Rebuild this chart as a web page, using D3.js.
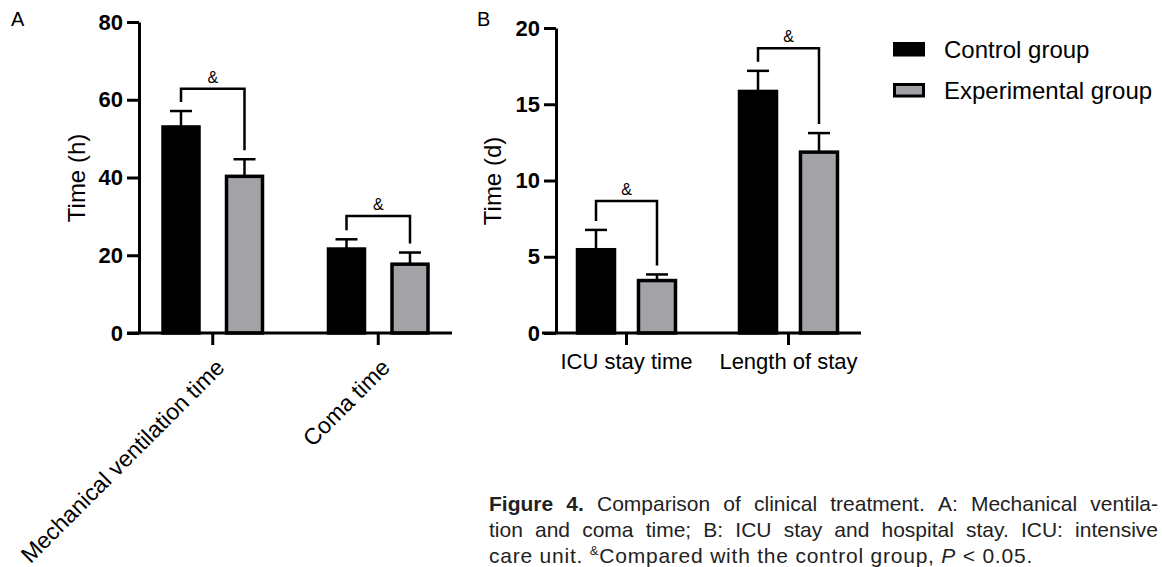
<!DOCTYPE html>
<html>
<head>
<meta charset="utf-8">
<script src="https://cdn.jsdelivr.net/npm/d3@7"></script>
<style>
  body { margin: 0; background: #fff; }
  svg { display: block; }
</style>
</head>
<body>
<script>
// --- --- --- Data --- --- ---
const groups = ["Control group", "Experimental group"];

// panel A (hours)
const catsA = ["Mechanical ventilation time", "Coma time"];
const controlA = [53.0, 21.6];
const controlSdA = [4.1, 2.5];
const experA = [40.3, 17.7];
const experSdA = [4.4, 3.0];
const bracketA = [62.8, 30.1];
const ticksA = [0, 20, 40, 60, 80];

// panel B (days)
const catsB = ["ICU stay time", "Length of stay"];
const controlB = [5.46, 15.84];
const controlSdB = [1.3, 1.35];
const experB = [3.44, 11.86];
const experSdB = [0.4, 1.25];
const bracketB = [8.66, 18.67];
const ticksB = [0, 5, 10, 15, 20];

const captionJustified = [
  "Figure 4. Comparison of clinical treatment. A: Mechanical ventila-",
  "tion and coma time; B: ICU stay and hospital stay. ICU: intensive"
];

const FONT = "'Liberation Sans', Arial, Helvetica, sans-serif";
const GRAY = "#a2a2a7";

const svg = d3.select("body").append("svg")
  .attr("width", 1162)
  .attr("height", 567)
  .style("font-family", FONT);

function drawPanel(p)
{
  const g = svg.append("g");
  const y = d3.scaleLinear().domain([0, p.ticks[p.ticks.length - 1]]).range([p.y0, p.y1]);
  const x = d3.scaleBand().domain(p.cats).range(p.xRange);
  const xs = d3.scaleBand().domain(groups).range([-p.inner, p.inner]).paddingInner(p.pad);
  const cx = (c, grp) => x(c) + x.bandwidth() / 2 + xs(grp) + xs.bandwidth() / 2;

  const rows = p.cats.map((c, i) => ({
    cat: c,
    bracket: p.bracket[i],
    vals: [
      { grp: groups[0], v: p.control[i], sd: p.controlSd[i] },
      { grp: groups[1], v: p.exper[i], sd: p.experSd[i] }
    ]
  }));
  const flat = rows.flatMap(r => r.vals.map(d => Object.assign({ cat: r.cat }, d)));

  // error bars (only upward)
  const err = g.append("g").attr("stroke", "#000").attr("stroke-width", 2.5);
  err.selectAll(".ev").data(flat).join("line")
    .attr("x1", d => cx(d.cat, d.grp)).attr("x2", d => cx(d.cat, d.grp))
    .attr("y1", d => y(d.v)).attr("y2", d => y(d.v + d.sd));
  err.selectAll(".ec").data(flat).join("line")
    .attr("x1", d => cx(d.cat, d.grp) - 11).attr("x2", d => cx(d.cat, d.grp) + 11)
    .attr("y1", d => y(d.v + d.sd)).attr("y2", d => y(d.v + d.sd));

  // bars
  g.append("g").selectAll("rect").data(flat).join("rect")
    .attr("x", d => cx(d.cat, d.grp) - xs.bandwidth() / 2)
    .attr("width", xs.bandwidth())
    .attr("y", d => y(d.v))
    .attr("height", d => y(0) - y(d.v))
    .attr("fill", d => d.grp === groups[0] ? "#000" : GRAY)
    .attr("stroke", "#000")
    .attr("stroke-width", 3.5);

  // significance brackets
  const br = g.append("g");
  rows.forEach(r => {
    const lx = cx(r.cat, groups[0]), rx = cx(r.cat, groups[1]);
    const by = y(r.bracket);
    const lb = y(r.vals[0].v + r.vals[0].sd) - 9;
    const rb = y(r.vals[1].v + r.vals[1].sd) - 9;
    br.append("path")
      .attr("d", `M${lx},${lb}V${by}H${rx}V${rb}`)
      .attr("fill", "none").attr("stroke", "#000").attr("stroke-width", 2.5);
    br.append("text")
      .attr("x", (lx + rx) / 2).attr("y", by - 6)
      .attr("text-anchor", "middle")
      .attr("font-size", 16)
      .text("&");
  });

  // y axis
  const ya = g.append("g")
    .attr("transform", `translate(${p.axisX},0)`)
    .call(d3.axisLeft(y).tickValues(p.ticks).tickSize(12).tickPadding(4).tickSizeOuter(0));
  ya.select(".domain").attr("stroke-width", 3);
  ya.selectAll(".tick line").attr("stroke-width", 3);
  ya.selectAll(".tick text")
    .attr("font-family", FONT).attr("font-size", 22).attr("font-weight", "bold").attr("fill", "#000");

  // x axis
  g.append("line")
    .attr("x1", p.xAxis[0]).attr("x2", p.xAxis[1])
    .attr("y1", y(0)).attr("y2", y(0))
    .attr("stroke", "#000").attr("stroke-width", 3);
  const xa = g.append("g")
    .attr("transform", `translate(0,${y(0)})`)
    .call(d3.axisBottom(x).tickSize(12).tickSizeOuter(0));
  xa.select(".domain").remove();
  xa.selectAll(".tick line").attr("stroke-width", 3);
  const xt = xa.selectAll(".tick text")
    .attr("font-family", FONT).attr("font-size", p.rotate ? 23 : 22).attr("fill", "#000");
  if (p.rotate)
    xt.attr("x", 0).attr("y", 0).attr("dy", null)
      .attr("text-anchor", "end")
      .attr("transform", "translate(13,36) rotate(-45)");
  else
    xt.attr("y", 36).attr("dy", null);

  // y title
  g.append("text")
    .attr("transform", `translate(${p.titleX},${p.titleY}) rotate(-90)`)
    .attr("text-anchor", "middle")
    .attr("font-size", 24)
    .text(p.title);

  // panel letter
  g.append("text")
    .attr("x", p.letter[0]).attr("y", p.letter[1])
    .attr("font-size", 20)
    .text(p.letter[2]);
}

drawPanel({
  cats: catsA, control: controlA, controlSd: controlSdA, exper: experA, experSd: experSdA,
  bracket: bracketA, ticks: ticksA,
  y0: 333, y1: 22, xRange: [130, 461], inner: 49.75, pad: 0.433,
  axisX: 139, xAxis: [127, 452], rotate: true,
  title: "Time (h)", titleX: 85, titleY: 178, letter: [11, 26, "A"]
});

drawPanel({
  cats: catsB, control: controlB, controlSd: controlSdB, exper: experB, experSd: experSdB,
  bracket: bracketB, ticks: ticksB,
  y0: 333, y1: 28, xRange: [545.5, 869.5], inner: 49, pad: 0.393,
  axisX: 556, xAxis: [542, 861], rotate: false,
  title: "Time (d)", titleX: 501, titleY: 181, letter: [477, 26, "B"]
});

// legend
const legend = svg.append("g");
const legendY = [43.5, 84.5];
groups.forEach((grp, i) => {
  legend.append("rect")
    .attr("x", 894.5).attr("y", legendY[i])
    .attr("width", 29).attr("height", 11.5)
    .attr("fill", i === 0 ? "#000" : GRAY)
    .attr("stroke", "#000").attr("stroke-width", 3);
  legend.append("text")
    .attr("x", 944).attr("y", legendY[i] + 14)
    .attr("font-size", 24)
    .text(grp);
});

// caption, first two lines justified
const cap = svg.append("g").attr("fill", "#222").attr("font-size", 21);
const capLeft = 489, capRight = 1158, capBase = [511, 537, 563];
captionJustified.forEach((line, li) => {
  const words = line.split(" ");
  const nodes = words.map((w, wi) =>
    cap.append("text")
      .attr("y", capBase[li])
      .attr("font-weight", li === 0 && wi < 2 ? "bold" : null)
      .text(w));
  const widths = nodes.map(n => n.node().getComputedTextLength());
  const gap = (capRight - capLeft - d3.sum(widths)) / (words.length - 1);
  let xpos = capLeft;
  nodes.forEach((n, i) => { n.attr("x", xpos); xpos += widths[i] + gap; });
});
const last = cap.append("text").attr("x", capLeft).attr("y", capBase[2]);
last.append("tspan").text("care unit. ");
last.append("tspan").attr("font-size", 13).attr("dy", -8).text("&");
last.append("tspan").attr("dy", 8).text("Compared with the control group, ");
last.append("tspan").attr("font-style", "italic").text("P");
last.append("tspan").text(" < 0.05.");
// the original face runs a bit wider, spread letters to the same line end
const lastW = last.node().getComputedTextLength();
const nChars = last.text().length;
last.attr("letter-spacing", ((1033 - capLeft) - lastW) / nChars);
</script>
</body>
</html>
